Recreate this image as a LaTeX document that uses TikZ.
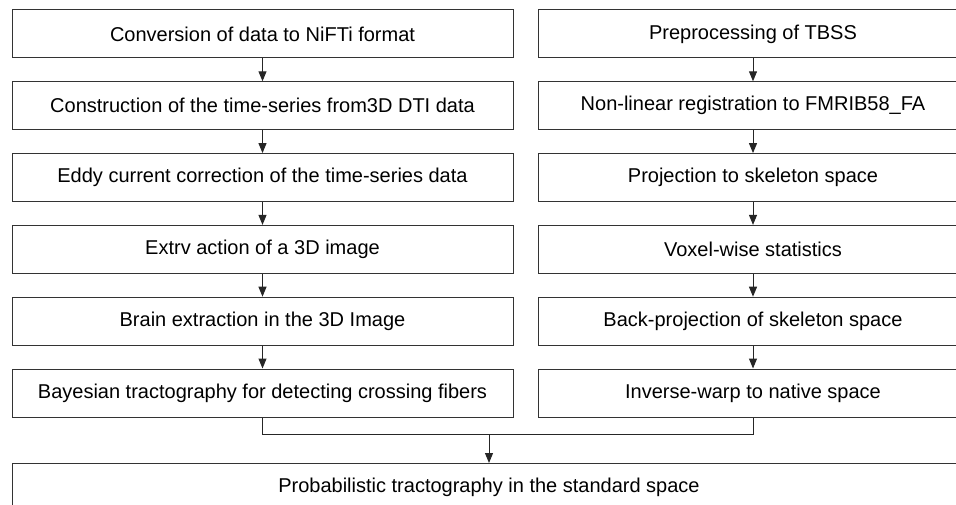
\documentclass[tikz,border=0pt]{standalone}
\usepackage{fontspec}
\setmainfont{Liberation Sans}
\usetikzlibrary{arrows.meta}
\begin{document}
\begin{tikzpicture}[x=1pt,y=-1pt,
  stepbox/.style={draw=black!80,line width=1pt,minimum height=48pt,inner sep=0pt,font=\fontsize{20}{24}\selectfont,fill=white},
  leftbox/.style={stepbox,minimum width=501pt},
  rightbox/.style={stepbox,minimum width=430pt},
  conn/.style={draw=black!85,line width=1pt},
  arr/.style={conn,-{Triangle[width=8pt,length=10pt]}}]
\useasboundingbox (0,0) rectangle (956,505);
\clip (0,0) rectangle (956,505);
\foreach \i/\t in {0/{Conversion of data to NiFTi format},
  1/{Construction of the time-series from3D DTI data},
  2/{Eddy current correction of the time-series data},
  3/{Extrv action of a 3D image},
  4/{Brain extraction in the 3D Image},
  5/{Bayesian tractography for detecting crossing fibers}}{
  \node[leftbox] (L\i) at (262.5,{34+71.8*\i}) {\t};
}
\foreach \i/\t in {0/{Preprocessing of TBSS},
  1/{Non-linear registration to FMRIB58\_FA},
  2/{Projection to skeleton space},
  3/{Voxel-wise statistics},
  4/{Back-projection of skeleton space},
  5/{Inverse-warp to native space}}{
  \node[rightbox] (R\i) at (753,{34+71.8*\i}) {\t};
}
\foreach \i [evaluate=\i as \j using int(\i+1)] in {0,...,4}{
  \draw[arr] (L\i.south) -- (L\j.north);
  \draw[arr] (R\i.south) -- (R\j.north);
}
\node[stepbox,minimum width=954pt,minimum height=60pt,anchor=north] (B) at (489,463) {};
\node[font=\fontsize{20}{24}\selectfont] (Bt) at (489,487) {Probabilistic tractography in the standard space};
\coordinate (J) at (489,434.5);
\draw[conn] (L5.south) |- (J) -| (R5.south);
\draw[arr] (J) -- (B.north);
\end{tikzpicture}
\end{document}
